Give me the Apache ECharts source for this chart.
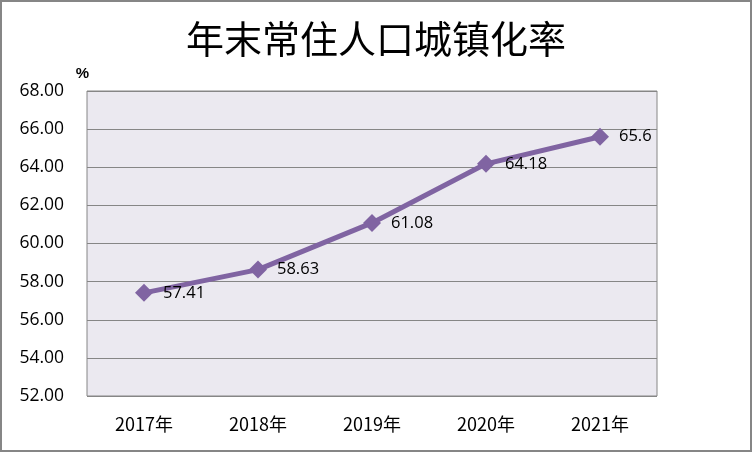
<!DOCTYPE html>
<html><head><meta charset="utf-8">
<script src="https://cdn.jsdelivr.net/npm/echarts@6/dist/echarts.min.js"></script>
<style>
html,body{margin:0;padding:0;background:#fff;}
#c{width:752px;height:452px;box-sizing:border-box;border:2px solid #868686;}
</style></head>
<body><div id="c"></div>
<script>
const categories = ['2017年','2018年','2019年','2020年','2021年'];
const values = [57.41, 58.63, 61.08, 64.18, 65.6];
const labels = ['57.41','58.63','61.08','64.18','65.6'];
const chart = echarts.init(document.getElementById('c'));
chart.setOption({
  animation:false,
  title:{text:'年末常住人口城镇化率',left:'center',top:13,
    textStyle:{fontFamily:'Noto Sans CJK SC',fontWeight:'normal',fontSize:38,color:'#000'}},
  grid:{left:85,right:93,top:89,bottom:54,show:true,backgroundColor:'#EBE9F0',borderColor:'#868686',borderWidth:1},
  xAxis:{type:'category',data:categories,boundaryGap:true,
    axisLine:{show:false},axisTick:{show:false},
    axisLabel:{fontFamily:'Noto Sans CJK SC',fontSize:18,color:'#000',margin:19}},
  yAxis:{type:'value',min:52,max:68,interval:2,name:'%',
    nameLocation:'end',nameGap:10,
    nameTextStyle:{fontWeight:'bold',fontSize:15,color:'#000',align:'right',padding:[0,-2,0,0]},
    axisLine:{show:false},axisTick:{show:false},
    axisLabel:{fontFamily:'Open Sans',fontSize:17.5,color:'#000',margin:23,formatter:v=>v.toFixed(2)},
    splitLine:{lineStyle:{color:'#868686',width:1}}},
  series:[{type:'line',data:values,symbol:'diamond',symbolSize:18,
    lineStyle:{color:'#8064A2',width:5},itemStyle:{color:'#8064A2'},
    label:{show:true,position:'right',distance:10,offset:[0,4],fontFamily:'Open Sans',fontSize:16.5,color:'#000',
      formatter:p=>labels[p.dataIndex]},
    labelLayout:{hideOverlap:false}}]
});
</script></body></html>
